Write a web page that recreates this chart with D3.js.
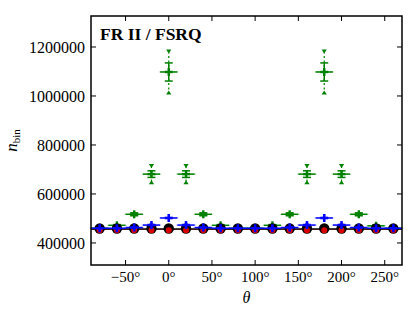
<!DOCTYPE html>
<html>
<head>
<meta charset="utf-8">
<script src="https://cdn.jsdelivr.net/npm/d3@7"></script>
<style>
  body { margin: 0; background: #fff; }
  svg { display: block; }
  text { font-family: "Liberation Serif", "DejaVu Serif", serif; }
</style>
</head>
<body>
<div id="chart"></div>
<script>
// bin centres (degrees)
const theta = [-80, -60, -40, -20, 0, 20, 40, 60, 80, 100, 120, 140, 160, 180, 200, 220, 240, 260];
const binHalf = 10;

// green series: value, inner error, outer (triangle) offset
const greenVal   = [460000, 472000, 517000, 681000, 1098000, 681000, 517000, 472000, 460000,
                    460000, 472000, 517000, 681000, 1098000, 681000, 517000, 470000, 460000];
const greenErr   = [2000, 3000, 6000, 13500, 37000, 13500, 6000, 3000, 2000,
                    2000, 3000, 6000, 13500, 37000, 13500, 6000, 3000, 2000];
const greenOuter = [4000, 7000, 14000, 33000, 84000, 33000, 14000, 7000, 4000,
                    4000, 7000, 14000, 33000, 84000, 33000, 14000, 7000, 4000];

// blue series
const blueVal = [460000, 460000, 463000, 473000, 502000, 473000, 463000, 460000, 460000,
                 460000, 460000, 463000, 473000, 502000, 473000, 463000, 460000, 460000];

// red and black series
const redVal   = [452000, 452000, 452000, 452000, 452000, 452000, 452000, 452000, 452000,
                  452000, 452000, 452000, 452000, 452000, 452000, 452000, 452000, 452000];
const blackVal = [459000, 459000, 459000, 459000, 459000, 459000, 459000, 459000, 459000,
                  459000, 459000, 459000, 459000, 459000, 459000, 459000, 459000, 459000];
const blackLine = 457000;
const redLine = 455000;

const xTicks = [-50, 0, 50, 100, 150, 200, 250];
const yTicks = [400000, 600000, 800000, 1000000, 1200000];
const title = 'FR II / FSRQ';

const width = 415, height = 312;
const margin = {top: 16, right: 13, bottom: 47, left: 91};

const svg = d3.select('#chart').append('svg')
    .attr('width', width)
    .attr('height', height);

const x = d3.scaleLinear().domain([-90, 270]).range([margin.left, width - margin.right]);
const y = d3.scaleLinear().domain([310000, 1326500]).range([height - margin.bottom, margin.top]);

const GREEN = '#008000', BLUE = '#0000ff', RED = '#ff0000';

const plot = svg.append('g');

// helper for a "+" point with horizontal bin bar
function plusPoints(vals, color, size, sw) {
    const g = plot.append('g');
    theta.forEach((t, i) => {
        const cx = x(t), cy = y(vals[i]);
        g.append('line')
            .attr('x1', x(t - binHalf - 1.5)).attr('x2', x(t + binHalf + 1.5))
            .attr('y1', cy).attr('y2', cy)
            .attr('stroke', color).attr('stroke-width', 1).attr('opacity', 0.25);
        g.append('line')
            .attr('x1', x(t - binHalf)).attr('x2', x(t + binHalf))
            .attr('y1', cy).attr('y2', cy)
            .attr('stroke', color).attr('stroke-width', 1.5);
        g.append('line')
            .attr('x1', cx - size).attr('x2', cx + size)
            .attr('y1', cy).attr('y2', cy)
            .attr('stroke', color).attr('stroke-width', sw);
        g.append('line')
            .attr('x1', cx).attr('x2', cx)
            .attr('y1', cy - size).attr('y2', cy + size)
            .attr('stroke', color).attr('stroke-width', sw);
    });
    return g;
}

// green with error bars and outer triangles
const gg = plusPoints(greenVal, GREEN, 4, 2.4);
theta.forEach((t, i) => {
    const cx = x(t);
    const top = y(greenVal[i] + greenErr[i]), bot = y(greenVal[i] - greenErr[i]);
    const oTop = y(greenVal[i] + greenOuter[i]), oBot = y(greenVal[i] - greenOuter[i]);
    gg.append('line')
        .attr('x1', cx).attr('x2', cx).attr('y1', top).attr('y2', bot)
        .attr('stroke', GREEN).attr('stroke-width', 1.5);
    [top, bot].forEach(v => gg.append('line')
        .attr('x1', cx - 4).attr('x2', cx + 4).attr('y1', v).attr('y2', v)
        .attr('stroke', GREEN).attr('stroke-width', 1.5));
    if (oTop < top - 3) {
        gg.append('line')
            .attr('x1', cx).attr('x2', cx).attr('y1', oTop).attr('y2', oBot)
            .attr('stroke', GREEN).attr('stroke-width', 1.2)
            .attr('stroke-dasharray', '2,2.5');
        gg.append('path')
            .attr('d', `M${cx - 2.6},${oTop - 2} L${cx + 2.6},${oTop - 2} L${cx},${oTop + 2} Z`)
            .attr('fill', GREEN);
        gg.append('path')
            .attr('d', `M${cx - 2.6},${oBot + 2} L${cx + 2.6},${oBot + 2} L${cx},${oBot - 2} Z`)
            .attr('fill', GREEN);
    }
});

// reference lines
plot.append('line')
    .attr('x1', x.range()[0]).attr('x2', x.range()[1])
    .attr('y1', y(redLine)).attr('y2', y(redLine))
    .attr('stroke', RED).attr('stroke-width', 1).attr('opacity', 0.6);
plot.append('line')
    .attr('x1', x.range()[0]).attr('x2', x.range()[1])
    .attr('y1', y(blackLine)).attr('y2', y(blackLine))
    .attr('stroke', '#000').attr('stroke-width', 1.5);

// black circles
plot.append('g').selectAll('circle')
    .data(theta)
    .enter().append('circle')
    .attr('cx', d => x(d))
    .attr('cy', (d, i) => y(blackVal[i]))
    .attr('r', 5.2)
    .attr('fill', '#000');

// red circles on top, slightly lower
plot.append('g').selectAll('circle')
    .data(theta)
    .enter().append('circle')
    .attr('cx', d => x(d))
    .attr('cy', (d, i) => y(redVal[i]))
    .attr('r', 3)
    .attr('fill', RED)
    .attr('opacity', 0.85);

plusPoints(blueVal, BLUE, 4, 2.6);

// frame
const x0 = x.range()[0], x1 = x.range()[1], y0 = y.range()[0], y1 = y.range()[1];
svg.append('rect')
    .attr('x', x0).attr('y', y1)
    .attr('width', x1 - x0).attr('height', y0 - y1)
    .attr('fill', 'none').attr('stroke', '#000').attr('stroke-width', 1.5);

// inward ticks
const tickLen = 5;
const ticks = svg.append('g').attr('stroke', '#000').attr('stroke-width', 1);
xTicks.forEach(t => {
    ticks.append('line').attr('x1', x(t)).attr('x2', x(t)).attr('y1', y0).attr('y2', y0 - tickLen);
    ticks.append('line').attr('x1', x(t)).attr('x2', x(t)).attr('y1', y1).attr('y2', y1 + tickLen);
});
yTicks.forEach(t => {
    ticks.append('line').attr('x1', x0).attr('x2', x0 + tickLen).attr('y1', y(t)).attr('y2', y(t));
    ticks.append('line').attr('x1', x1).attr('x2', x1 - tickLen).attr('y1', y(t)).attr('y2', y(t));
});

// tick labels
svg.append('g').selectAll('text')
    .data(xTicks)
    .enter().append('text')
    .attr('x', d => x(d))
    .attr('y', y0 + 17)
    .attr('text-anchor', 'middle')
    .attr('font-size', '15px')
    .text(d => (d < 0 ? '\u2212' + Math.abs(d) : d) + '\u00b0');

svg.append('g').selectAll('text')
    .data(yTicks)
    .enter().append('text')
    .attr('x', x0 - 6)
    .attr('y', d => y(d))
    .attr('dy', '0.35em')
    .attr('text-anchor', 'end')
    .attr('font-size', '16px')
    .text(d => d);

// title inside plot
svg.append('text')
    .attr('x', x0 + 9)
    .attr('y', y1 + 24)
    .attr('font-size', '17.5px')
    .attr('font-weight', 'bold')
    .text(title);

// axis labels
svg.append('text')
    .attr('x', (x0 + x1) / 2)
    .attr('y', height - 9)
    .attr('text-anchor', 'middle')
    .attr('font-size', '16px')
    .attr('font-style', 'italic')
    .text('\u03b8');

const yl = svg.append('text')
    .attr('transform', `translate(17,${(y0 + y1) / 2}) rotate(-90)`)
    .attr('text-anchor', 'middle')
    .attr('font-size', '17px');
yl.append('tspan').attr('font-style', 'italic').text('n');
yl.append('tspan').attr('font-size', '11px').attr('dy', '3').text('bin');
</script>
</body>
</html>
